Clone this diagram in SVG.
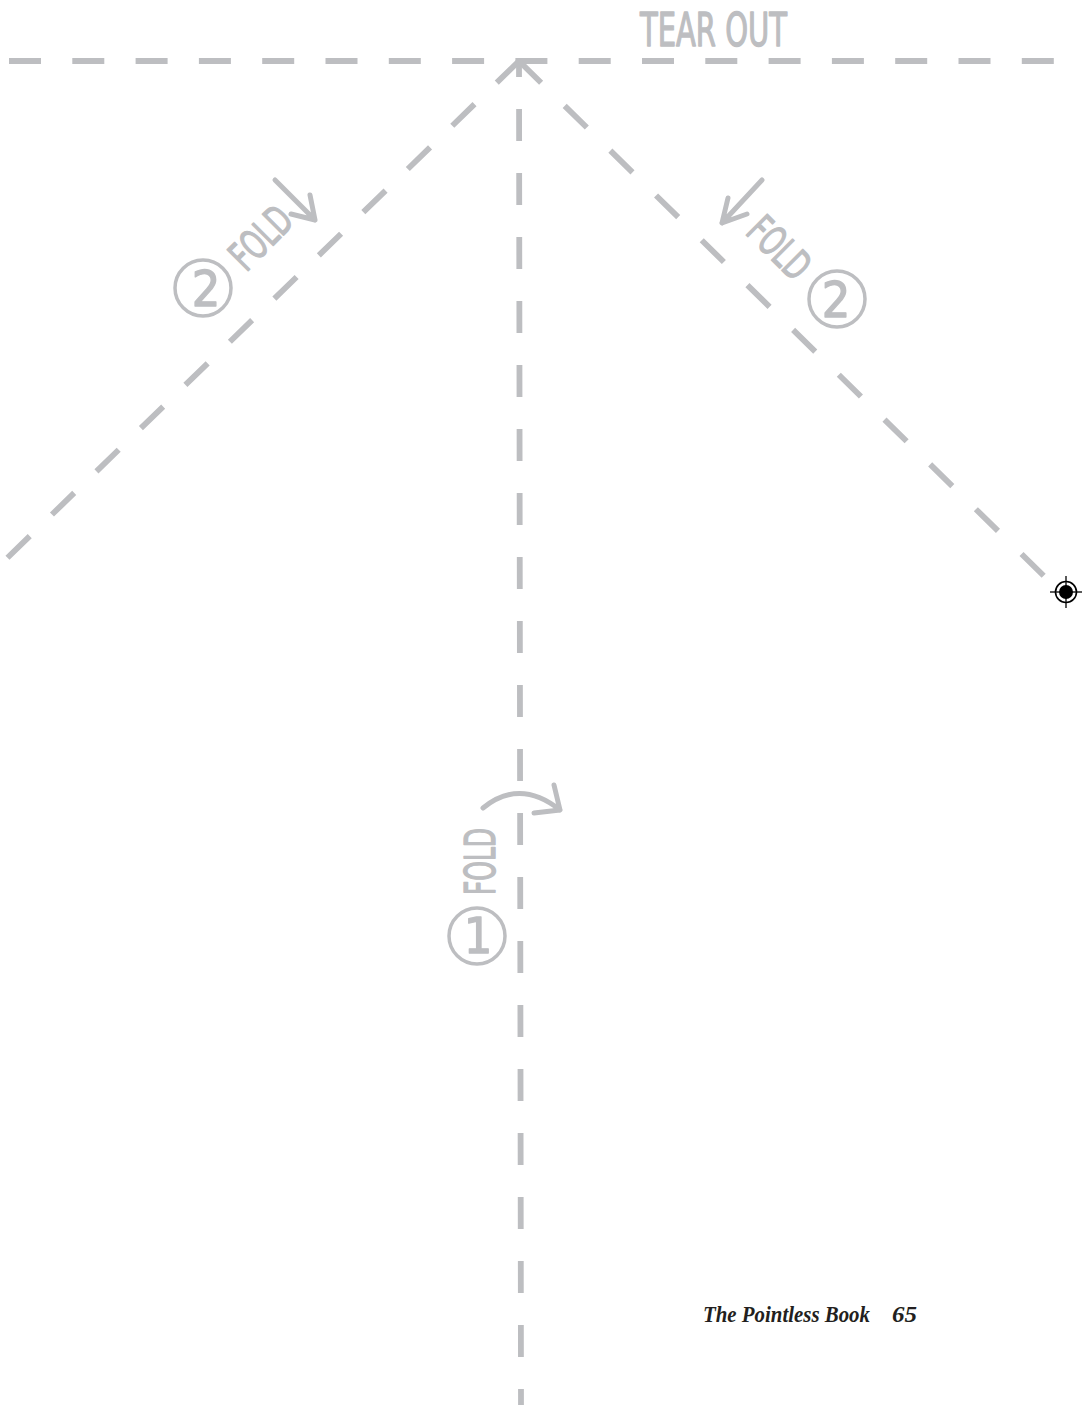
<svg xmlns="http://www.w3.org/2000/svg" width="1082" height="1405" viewBox="0 0 1082 1405">
  <style>
    .dash { stroke: #bdbec1; stroke-width: 5.8; fill: none; stroke-linecap: butt; }
    .arr { stroke: #bdbec1; stroke-width: 5; fill: none; stroke-linecap: round; stroke-linejoin: round; }
    .ring { stroke: #bdbec1; stroke-width: 3.5; fill: none; }
    .lbl { fill: #bdbec1; stroke: #bdbec1; stroke-width: 1.3; stroke-linejoin: round; font-family: "Liberation Sans Narrow", "DejaVu Sans Condensed", "Liberation Sans", sans-serif; }
    .foot { fill: #231f20; font-family: "Liberation Serif", serif; font-style: italic; font-weight: bold; }
  </style>
  <rect width="1082" height="1405" fill="#ffffff"/>

  <g id="connectors">
    <line class="dash" x1="9" y1="61" x2="1054" y2="61" stroke-dasharray="32 31.3"/>
    <line class="dash" x1="519" y1="61" x2="0" y2="565" stroke-dasharray="31 31"/>
    <line class="dash" x1="519" y1="61" x2="1047" y2="579" stroke-dasharray="31 33"/>
    <line class="dash" x1="519" y1="61" x2="521" y2="1405" stroke-dasharray="32 32" stroke-dashoffset="16"/>
  </g>

  <g id="tear-out">
    <text class="lbl" x="640" y="46" font-size="46" textLength="147" lengthAdjust="spacingAndGlyphs">TEAR OUT</text>
  </g>

  <g id="fold-2-left">
    <path class="arr" d="M275,180 L315,220 M310,195 L315,220 L291,214"/>
    <text class="lbl" transform="translate(261,238) rotate(-45)" x="0" y="14" font-size="41" text-anchor="middle" textLength="70" lengthAdjust="spacingAndGlyphs">FOLD</text>
    <circle class="ring" cx="203" cy="288" r="28"/>
    <text class="lbl" x="206" y="306" font-size="50" text-anchor="middle">2</text>
  </g>

  <g id="fold-2-right">
    <path class="arr" d="M762,180 L722,223 M728,198 L722,223 L747,214"/>
    <text class="lbl" transform="translate(779,248) rotate(45)" x="0" y="14" font-size="41" text-anchor="middle" textLength="70" lengthAdjust="spacingAndGlyphs">FOLD</text>
    <circle class="ring" cx="837" cy="299" r="28"/>
    <text class="lbl" x="836" y="317" font-size="50" text-anchor="middle">2</text>
  </g>

  <g id="fold-1">
    <path class="arr" d="M483,808 Q520,778 560,810 M554,785 L560,810 L534,813"/>
    <text class="lbl" transform="translate(495,861.5) rotate(-90)" x="0" y="0" font-size="42" text-anchor="middle" textLength="67" lengthAdjust="spacingAndGlyphs">FOLD</text>
    <circle class="ring" cx="477" cy="936" r="28"/>
    <text class="lbl" x="478" y="953" font-size="50" text-anchor="middle">1</text>
  </g>

  <g id="registration-mark">
    <circle cx="1066" cy="592" r="10.5" fill="none" stroke="#000" stroke-width="1.6"/>
    <circle cx="1066" cy="592" r="7" fill="#000"/>
    <line x1="1050" y1="592" x2="1082" y2="592" stroke="#000" stroke-width="1.3"/>
    <line x1="1066" y1="576" x2="1066" y2="608" stroke="#000" stroke-width="1.3"/>
  </g>

  <g id="footer">
    <text class="foot" x="703" y="1322" font-size="23" textLength="167" lengthAdjust="spacingAndGlyphs">The Pointless Book</text>
    <text class="foot" x="892" y="1322" font-size="23" textLength="25" lengthAdjust="spacingAndGlyphs">65</text>
  </g>
</svg>
